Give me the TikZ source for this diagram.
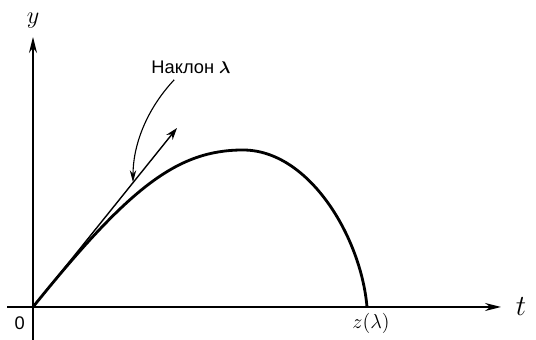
\documentclass[tikz,border=0pt]{standalone}
\usepackage{amsmath,amssymb,bm}
\usepackage{fontspec}
\newfontfamily\cyrfont{Liberation Sans}
\usetikzlibrary{arrows.meta}
\begin{document}
\begin{tikzpicture}[
    axis/.style={-{Stealth[length=4mm, width=2mm]}, line width=1.1pt},
    path_line/.style={line width=2pt},
    slope/.style={-{Stealth[length=3mm, width=2mm]}, line width=1pt},
    pointer/.style={-{Stealth[length=3mm, width=1.6mm]}, line width=0.8pt}
]
    \useasboundingbox (-0.825,-0.825) rectangle (12.575,7.675);
    \coordinate (O) at (0,0);
    \coordinate (xs) at (-0.65,0);
    \coordinate (xe) at (11.7,0);
    \coordinate (ys) at (0,-0.825);
    \coordinate (ye) at (0,6.75);
    \coordinate (top) at (5.25,3.925);
    \coordinate (Z) at (8.35,0);
    \coordinate (tan) at (3.6,4.475);
    \node (t) at (12.2,0.02) {\fontsize{22}{22}\selectfont$t$};
    \node (y) at (0,7.15) {\fontsize{17}{17}\selectfont$y$};
    \node (zero) at (-0.33,-0.4) {\cyrfont\fontsize{13}{13}\selectfont 0};
    \node (zl) at (8.45,-0.42) {\fontsize{14}{14}\selectfont$z(\lambda)$};
    \node (lbl) at (3.95,5.98) {\cyrfont\fontsize{13}{13}\selectfont Наклон $\bm{\lambda}$};
    \coordinate (tip) at (2.5,3.12);
    \draw [axis] (xs) -- (xe);
    \draw [axis] (ys) -- (ye);
    \draw [slope] (O) -- (tan);
    \draw [path_line] (O) .. controls (2.4,2.98) and (3.6,3.925) .. (top)
        .. controls (6.9,3.925) and (8.2,1.75) .. (Z);
    \draw [pointer] (3.53,5.68) .. controls (2.8,4.9) and (2.5,4.0) .. (tip);
\end{tikzpicture}
\end{document}
